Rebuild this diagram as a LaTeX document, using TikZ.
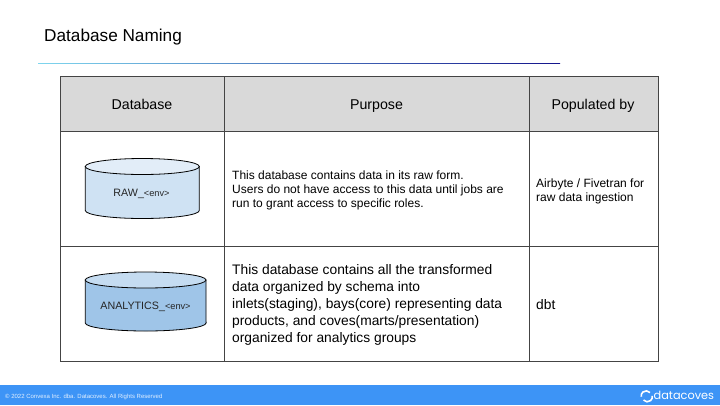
\documentclass[tikz,border=0pt]{standalone}
\usepackage{fontspec}
\setmainfont{Liberation Sans}
\newfontfamily\logofont{Poppins}
\usetikzlibrary{calc}
\definecolor{headgray}{HTML}{D9D9D9}
\definecolor{gridline}{HTML}{444444}
\definecolor{barblue}{HTML}{3D94F6}
\definecolor{rawbody}{HTML}{CFE2F3}
\definecolor{rawtop}{HTML}{E2EDF8}
\definecolor{anabody}{HTML}{9FC5E8}
\definecolor{anatop}{HTML}{C5DCF1}
\definecolor{ruleleft}{HTML}{7FD6EE}
\definecolor{rulemid}{HTML}{3F7FD8}
\definecolor{ruleright}{HTML}{14148C}
\newcommand{\fs}[1]{\fontsize{#1}{#1}\selectfont}
\tikzset{
  x=1pt,y=-1pt,
  cellline/.style={draw=gridline,line width=0.9pt},
  headtext/.style={inner sep=0pt,anchor=base,text=black,font=\fs{14.2}},
  smalltext/.style={inner sep=0pt,anchor=west,align=left,text=black,font=\fs{12}},
  bigtext/.style={inner sep=0pt,anchor=west,align=left,text=black,font=\fs{13.8}},
  dblabel/.style={inner sep=0pt,anchor=base,text=black!85,font=\fs{10.7}},
  dbshape/.style={draw=black,line width=0.8pt},
}
\begin{document}
\begin{tikzpicture}
\useasboundingbox (0,0) rectangle (720,405);
\fill[white] (0,0) rectangle (720,405);
% title and rule
\node[inner sep=0pt,anchor=west,font=\fs{17.2}] (title) at (44,36.8) {Database Naming};
\shade[left color=ruleleft,middle color=rulemid,right color=ruleright] (38,63.2) rectangle (560,63.9);
% header fills
\fill[headgray] (60.5,76) rectangle (658,131);
% grid
\draw[cellline] (60.5,76) rectangle (658,361);
\draw[cellline] (60.5,131) -- (658,131);
\draw[cellline] (60.5,246) -- (658,246);
\draw[cellline] (224.5,76) -- (224.5,361);
\draw[cellline] (529,76) -- (529,361);
% headers
\node[headtext] (h1) at (142,109) {Database};
\node[headtext] (h2) at (376.5,109) {Purpose};
\node[headtext] (h3) at (593,109) {Populated by};
% raw cylinder
\filldraw[dbshape,fill=rawbody] (85.3,166.5) -- (85.3,210.5) arc[start angle=180,end angle=360,x radius=57,y radius=-8] -- (199.3,166.5) -- cycle;
\filldraw[dbshape,fill=rawtop] (142.3,166.5) ellipse[x radius=57,y radius=8];
\node[dblabel] (raw) at (141.5,196.5) {RAW\_{\fs{9.2}<env>}};
% analytics cylinder
\filldraw[dbshape,fill=anabody] (85.3,280) -- (85.3,323) arc[start angle=180,end angle=360,x radius=60.4,y radius=-8] -- (206,280) -- cycle;
\filldraw[dbshape,fill=anatop] (145.6,280) ellipse[x radius=60.4,y radius=8];
\node[dblabel] (ana) at (145.5,309) {ANALYTICS\_{\fs{9.2}<env>}};
% body text
\node[smalltext] (p1) at (232,190) {This database contains data in its raw form.\\[2pt]Users do not have access to this data until jobs are\\[2pt]run to grant access to specific roles.};
\node[bigtext] (p2) at (232,305) {This database contains all the transformed\\[3.2pt]data organized by schema into\\[3.2pt]inlets(staging), bays(core) representing data\\[3.2pt]products, and coves(marts/presentation)\\[3.2pt]organized for analytics groups};
\node[smalltext] (q1) at (536,191) {Airbyte / Fivetran for\\[2pt]raw data ingestion};
\node[bigtext] (q2) at (536,305) {dbt};
% footer
\fill[barblue] (0,385) rectangle (720,405);
\node[inner sep=0pt,anchor=west,text=white!85!barblue,font=\fs{6}] (copy) at (5,396.7) {© 2022 Convexa Inc. dba. Datacoves. All Rights Reserved};
\draw[white,line width=1.6pt] (650,392.6) arc[start angle=-40,end angle=-190,radius=5];
\draw[white,line width=1.6pt] (643.5,400) arc[start angle=140,end angle=-10,radius=5];
\node[inner sep=0pt,anchor=west,text=white,font=\logofont\fs{11.3}] (logo) at (653.5,395.5) {datacoves};
\end{tikzpicture}
\end{document}
